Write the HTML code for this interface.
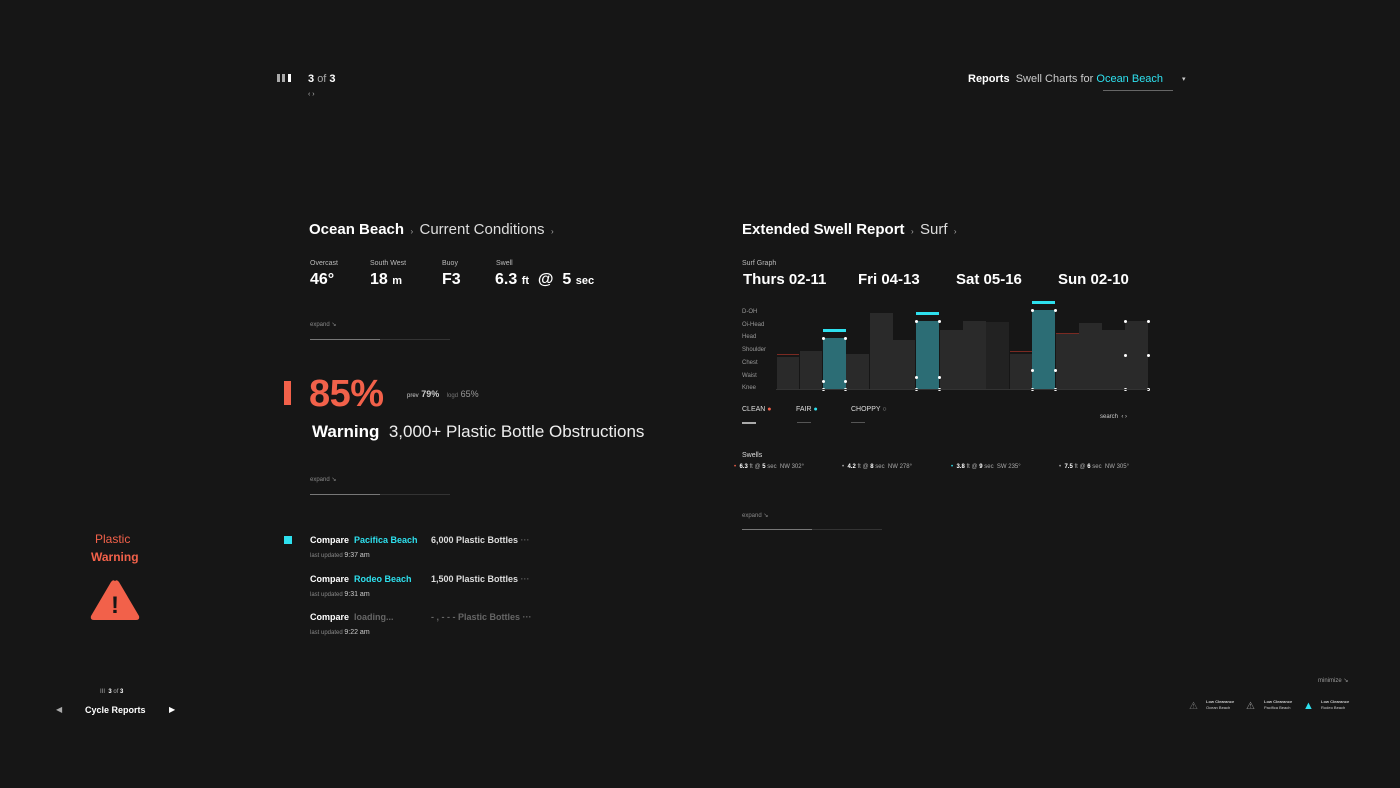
<!DOCTYPE html>
<html><head><meta charset="utf-8"><style>
body{margin:0;width:1400px;height:788px;background:#161616;font-family:"Liberation Sans",sans-serif;color:#fff;overflow:hidden;position:relative}
.a{position:absolute;white-space:nowrap}
.s{font-size:7px;color:#bbb}
.g{color:#888}
.c{color:#2ee0ee}
.o{color:#f2614a}
.bar{position:absolute;background:#2a2a2a;bottom:399px}
.t{position:absolute;background:#2c6d75}
.cap{position:absolute;height:3px;background:#2ee0ee}
.d{position:absolute;width:3px;height:3px;background:#fff;border-radius:50%}
</style></head><body>
<!-- top -->
<div class="a" style="left:277px;top:74px;width:3px;height:8px;background:#aaa"></div>
<div class="a" style="left:282px;top:74px;width:3px;height:8px;background:#aaa"></div>
<div class="a" style="left:288px;top:74px;width:3px;height:8px;background:#fff"></div>
<div class="a" style="left:308px;top:73px;font-size:11px;font-weight:bold">3 <span style="font-weight:normal;color:#aaa">of</span> 3</div>
<div class="a" style="left:308px;top:91px;font-size:7px;color:#bbb">‹ ›</div>
<div class="a" style="left:968px;top:73px;font-size:11px"><b>Reports</b>&nbsp; <span style="color:#ccc">Swell Charts for</span> <span class="c">Ocean Beach</span></div>
<div class="a" style="left:1103px;top:90px;width:70px;height:1px;background:#666"></div>
<div class="a" style="left:1182px;top:75px;font-size:7px;color:#ccc">▾</div>

<!-- left section -->
<div class="a" style="left:309px;top:221px;font-size:15px"><b>Ocean Beach</b> <span style="font-size:8px;color:#aaa">&nbsp;›&nbsp;</span> <span style="color:#ddd">Current Conditions</span> <span style="font-size:8px;color:#aaa">&nbsp;›</span></div>
<div class="a s" style="left:310px;top:260px">Overcast</div>
<div class="a s" style="left:370px;top:260px">South West</div>
<div class="a s" style="left:442px;top:260px">Buoy</div>
<div class="a s" style="left:496px;top:260px">Swell</div>
<div class="a" style="left:310px;top:271px;font-size:16px;font-weight:bold">46°</div>
<div class="a" style="left:370px;top:271px;font-size:16px;font-weight:bold">18 <span style="font-size:11px">m</span></div>
<div class="a" style="left:442px;top:271px;font-size:16px;font-weight:bold">F3</div>
<div class="a" style="left:495px;top:271px;font-size:16px;font-weight:bold">6.3 <span style="font-size:11px">ft</span> &nbsp;@&nbsp; 5 <span style="font-size:11px">sec</span></div>
<div class="a" style="left:310px;top:321px;font-size:6px;color:#888">expand ↘</div>
<div class="a" style="left:310px;top:339px;width:140px;height:1px;background:#333"></div>
<div class="a" style="left:310px;top:339px;width:70px;height:1px;background:#777"></div>
<div class="a" style="left:284px;top:381px;width:7px;height:24px;background:#f2614a"></div>
<div class="a o" style="left:309px;top:373px;font-size:38px;font-weight:bold;letter-spacing:-0.5px">85%</div>
<div class="a" style="left:407px;top:389px;font-size:9px;color:#ccc"><span style="font-size:6px">prev</span> <b>79%</b> &nbsp;&nbsp;<span style="font-size:6px;color:#777">logd</span> <span style="color:#999">65%</span></div>
<div class="a" style="left:312px;top:422px;font-size:17px"><b>Warning</b>&nbsp; <span style="color:#eee">3,000+ Plastic Bottle Obstructions</span></div>
<div class="a" style="left:310px;top:476px;font-size:6px;color:#888">expand ↘</div>
<div class="a" style="left:310px;top:494px;width:140px;height:1px;background:#333"></div>
<div class="a" style="left:310px;top:494px;width:70px;height:1px;background:#777"></div>

<div class="a" style="left:284px;top:536px;width:8px;height:8px;background:#2ee0ee"></div>
<div class="a" style="left:310px;top:535px;font-size:9px;font-weight:bold">Compare&nbsp; <span class="c">Pacifica Beach</span></div>
<div class="a" style="left:431px;top:535px;font-size:9px;font-weight:bold;color:#ddd">6,000 Plastic Bottles <span style="color:#555">···</span></div>
<div class="a" style="left:310px;top:552px;font-size:6px;color:#888">last updated <span style="color:#ccc;font-size:7px">9:37 am</span></div>
<div class="a" style="left:310px;top:574px;font-size:9px;font-weight:bold">Compare&nbsp; <span class="c">Rodeo Beach</span></div>
<div class="a" style="left:431px;top:574px;font-size:9px;font-weight:bold;color:#ddd">1,500 Plastic Bottles <span style="color:#555">···</span></div>
<div class="a" style="left:310px;top:591px;font-size:6px;color:#888">last updated <span style="color:#ccc;font-size:7px">9:31 am</span></div>
<div class="a" style="left:310px;top:612px;font-size:9px;font-weight:bold">Compare&nbsp; <span style="color:#666">loading...</span></div>
<div class="a" style="left:431px;top:612px;font-size:9px;font-weight:bold;color:#666">- , - - - Plastic Bottles ···</div>
<div class="a" style="left:310px;top:629px;font-size:6px;color:#888">last updated <span style="color:#ccc;font-size:7px">9:22 am</span></div>

<!-- plastic warning -->
<div class="a o" style="left:95px;top:532px;font-size:12px">Plastic</div>
<div class="a o" style="left:91px;top:550px;font-size:12px;font-weight:bold">Warning</div>
<svg class="a" style="left:89px;top:578px" width="52" height="44"><path d="M26 3 Q28 1 30 4 L50 38 Q51 42 47 42 L5 42 Q1 42 2 38 L22 4 Q24 1 26 3Z" fill="#f2614a"/><text x="26" y="35" font-size="24" font-weight="bold" fill="#161616" text-anchor="middle" font-family="Liberation Sans">!</text></svg>
<div class="a" style="left:100px;top:689px;font-size:6px;color:#aaa">III &nbsp;<b style="color:#fff">3</b> of <b style="color:#fff">3</b></div>
<div class="a" style="left:56px;top:705px;font-size:8px;color:#aaa">◀</div>
<div class="a" style="left:85px;top:705px;font-size:9px;font-weight:bold">Cycle Reports</div>
<div class="a" style="left:169px;top:705px;font-size:8px;color:#fff">▶</div>

<!-- right section -->
<div class="a" style="left:742px;top:221px;font-size:15px"><b>Extended Swell Report</b> <span style="font-size:8px;color:#aaa">&nbsp;›&nbsp;</span> <span style="color:#ddd">Surf</span> <span style="font-size:8px;color:#aaa">&nbsp;›</span></div>
<div class="a s" style="left:742px;top:260px">Surf Graph</div>
<div class="a" style="left:743px;top:271px;font-size:15px;font-weight:bold">Thurs 02-11</div>
<div class="a" style="left:858px;top:271px;font-size:15px;font-weight:bold">Fri 04-13</div>
<div class="a" style="left:956px;top:271px;font-size:15px;font-weight:bold">Sat 05-16</div>
<div class="a" style="left:1058px;top:271px;font-size:15px;font-weight:bold">Sun 02-10</div>
<div class="a" style="left:742px;top:306px;font-size:6px;color:#999;line-height:12.7px">D-OH<br>Oi-Head<br>Head<br>Shoulder<br>Chest<br>Waist<br>Knee</div>
<div class="bar" style="left:777px;width:22px;height:32px"></div>
<div class="bar" style="left:800px;width:22px;height:38px"></div>
<div class="bar" style="left:846px;width:23px;height:35px"></div>
<div class="bar" style="left:870px;width:23px;height:76px"></div>
<div class="bar" style="left:893px;width:22px;height:49px"></div>
<div class="bar" style="left:940px;width:23px;height:59px"></div>
<div class="bar" style="left:963px;width:23px;height:68px"></div>
<div class="bar" style="left:986px;width:23px;height:67px;background:#222"></div>
<div class="bar" style="left:1010px;width:22px;height:35px"></div>
<div class="bar" style="left:1056px;width:23px;height:55px"></div>
<div class="bar" style="left:1079px;width:23px;height:66px"></div>
<div class="bar" style="left:1102px;width:23px;height:59px"></div>
<div class="bar" style="left:1125px;width:23px;height:68px"></div>
<div class="a" style="left:777px;top:354px;width:22px;height:1px;background:#7a2a22"></div>
<div class="a" style="left:1010px;top:351px;width:22px;height:1px;background:#7a2a22"></div>
<div class="a" style="left:1056px;top:333px;width:23px;height:1px;background:#7a2a22"></div>
<div class="t" style="left:823px;top:338px;width:23px;height:51px"></div>
<div class="t" style="left:916px;top:321px;width:23px;height:68px"></div>
<div class="t" style="left:1032px;top:310px;width:23px;height:79px"></div>
<div class="cap" style="left:823px;top:329px;width:23px"></div>
<div class="cap" style="left:916px;top:312px;width:23px"></div>
<div class="cap" style="left:1032px;top:301px;width:23px"></div>
<div class="d" style="left:822px;top:337px"></div><div class="d" style="left:844px;top:337px"></div>
<div class="d" style="left:822px;top:380px"></div><div class="d" style="left:844px;top:380px"></div>
<div class="d" style="left:822px;top:388px"></div><div class="d" style="left:844px;top:388px"></div>
<div class="d" style="left:915px;top:320px"></div><div class="d" style="left:938px;top:320px"></div>
<div class="d" style="left:915px;top:376px"></div><div class="d" style="left:938px;top:376px"></div>
<div class="d" style="left:915px;top:388px"></div><div class="d" style="left:938px;top:388px"></div>
<div class="d" style="left:1031px;top:309px"></div><div class="d" style="left:1054px;top:309px"></div>
<div class="d" style="left:1031px;top:369px"></div><div class="d" style="left:1054px;top:369px"></div>
<div class="d" style="left:1031px;top:388px"></div><div class="d" style="left:1054px;top:388px"></div>
<div class="d" style="left:1124px;top:320px"></div><div class="d" style="left:1147px;top:320px"></div>
<div class="d" style="left:1124px;top:354px"></div><div class="d" style="left:1147px;top:354px"></div>
<div class="d" style="left:1124px;top:388px"></div><div class="d" style="left:1147px;top:388px"></div>
<div class="a" style="left:776px;top:389px;width:373px;height:1px;background:#333"></div>

<div class="a" style="left:742px;top:406px;font-size:7px;color:#ddd">CLEAN <span class="o">●</span></div>
<div class="a" style="left:796px;top:406px;font-size:7px;color:#ddd">FAIR <span class="c">●</span></div>
<div class="a" style="left:851px;top:406px;font-size:7px;color:#ddd">CHOPPY <span style="color:#aaa">○</span></div>
<div class="a" style="left:742px;top:422px;width:14px;height:2px;background:#aaa"></div>
<div class="a" style="left:797px;top:422px;width:14px;height:1px;background:#555"></div>
<div class="a" style="left:851px;top:422px;width:14px;height:1px;background:#555"></div>
<div class="a" style="left:1100px;top:414px;font-size:6px;color:#ccc">search &nbsp;‹ ›</div>
<div class="a s" style="left:742px;top:452px;color:#ddd">Swells</div>
<div class="a" style="left:734px;top:464px;font-size:6px;color:#aaa"><span class="o">•</span>&nbsp; <b style="color:#fff">6.3</b> ft @ <b style="color:#fff">5</b> sec &nbsp;NW 302°</div>
<div class="a" style="left:842px;top:464px;font-size:6px;color:#aaa">•&nbsp; <b style="color:#fff">4.2</b> ft @ <b style="color:#fff">8</b> sec &nbsp;NW 278°</div>
<div class="a" style="left:951px;top:464px;font-size:6px;color:#aaa"><span class="c">•</span>&nbsp; <b style="color:#fff">3.8</b> ft @ <b style="color:#fff">9</b> sec &nbsp;SW 235°</div>
<div class="a" style="left:1059px;top:464px;font-size:6px;color:#aaa">•&nbsp; <b style="color:#fff">7.5</b> ft @ <b style="color:#fff">6</b> sec &nbsp;NW 305°</div>
<div class="a" style="left:742px;top:512px;font-size:6px;color:#888">expand ↘</div>
<div class="a" style="left:742px;top:529px;width:140px;height:1px;background:#333"></div>
<div class="a" style="left:742px;top:529px;width:70px;height:1px;background:#777"></div>

<!-- bottom right -->
<div class="a" style="left:1318px;top:677px;font-size:6px;color:#999">minimize ↘</div>
<div class="a" style="left:1189px;top:701px;font-size:10px;color:#777">⚠</div>
<div class="a" style="left:1206px;top:699px;font-size:4px;color:#ccc;line-height:6px"><b>Low Clearance</b><br>Ocean Beach</div>
<div class="a" style="left:1246px;top:701px;font-size:10px;color:#999">⚠</div>
<div class="a" style="left:1264px;top:699px;font-size:4px;color:#ccc;line-height:6px"><b>Low Clearance</b><br>Pacifica Beach</div>
<div class="a c" style="left:1303px;top:700px;font-size:11px">▲</div>
<div class="a" style="left:1321px;top:699px;font-size:4px;color:#ccc;line-height:6px"><b>Low Clearance</b><br>Rodeo Beach</div>
</body></html>
